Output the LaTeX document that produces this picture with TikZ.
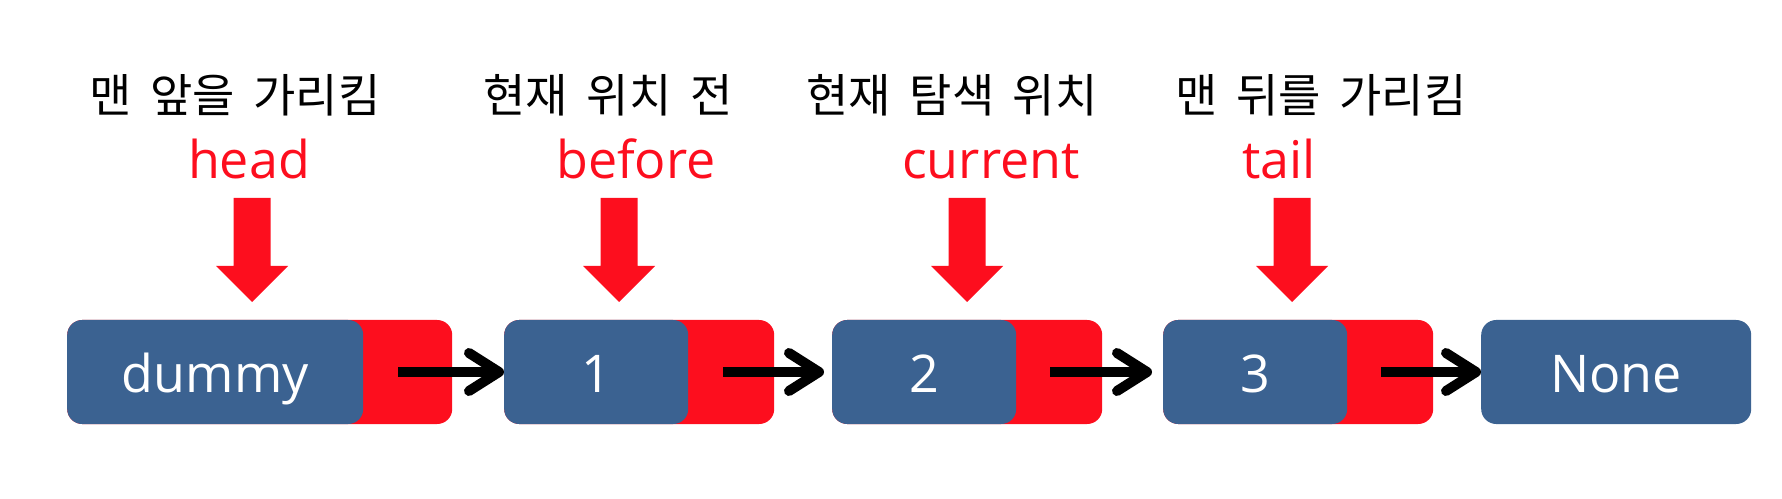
\documentclass[tikz,border=0pt]{standalone}
\usepackage{fontspec}
\setmainfont{Open Sans}
\newfontfamily\kr[WordSpace=1.8]{Noto Sans CJK KR}
\usetikzlibrary{arrows.meta}
\definecolor{nodeblue}{RGB}{59,98,145}
\definecolor{ptrred}{RGB}{253,14,30}
\tikzset{
  redbox/.style={fill=ptrred, draw=none, rounded corners=15pt, minimum height=104pt, inner sep=0pt, anchor=west},
  bluebox/.style={fill=nodeblue, draw=none, rounded corners=15pt, minimum height=104pt, inner sep=0pt, anchor=west,
    text=white, font=\fontsize{52}{60}\selectfont, text height=46pt, text depth=4pt},
  link/.style={line width=10pt, -{Straight Barb[length=30pt, width=38pt, line cap=round, line join=round]}},
  ptrname/.style={text=ptrred, font=\fontsize{52}{60}\selectfont, anchor=base, inner sep=0pt},
  krlabel/.style={font=\kr\fontsize{46}{52}\selectfont, anchor=base, inner sep=0pt},
  ptrarrow/.style={fill=ptrred, draw=none}
}
\newcommand{\downptr}[1]{%
  \fill[ptrarrow] (#1-18.5,300) -- (#1+18.5,300) -- (#1+18.5,232) -- (#1+36,232) -- (#1,196) -- (#1-36,232) -- (#1-18.5,232) -- cycle;}
\begin{document}
\begin{tikzpicture}[x=1pt,y=1pt]
\useasboundingbox (0,0) rectangle (1782,498);
% boxes
\node[redbox, minimum width=385pt] (r0) at (67,126) {};
\node[bluebox, minimum width=296pt] (b0) at (67,126) {dummy};
\node[redbox, minimum width=270pt] (r1) at (504,126) {};
\node[bluebox, minimum width=184pt] (b1) at (504,126) {1};
\node[redbox, minimum width=270pt] (r2) at (832,126) {};
\node[bluebox, minimum width=184pt] (b2) at (832,126) {2};
\node[redbox, minimum width=270pt] (r3) at (1163,126) {};
\node[bluebox, minimum width=184pt] (b3) at (1163,126) {3};
\node[bluebox, minimum width=270pt] (b4) at (1481,126) {None};
% links
\draw[link] ([xshift=35pt]b0.east) -- (b1.west);
\draw[link] ([xshift=35pt]b1.east) -- ([xshift=-8pt]b2.west);
\draw[link] ([xshift=34pt]b2.east) -- ([xshift=-11pt]b3.west);
\draw[link] ([xshift=34pt]b3.east) -- (b4.west);
% pointer names
\node[ptrname] (phead) at (249,319) {head};
\node[ptrname] (pbefore) at (636,319) {before};
\node[ptrname] (pcurrent) at (991,319) {current};
\node[ptrname] (ptail) at (1279,319) {tail};
% korean labels
\node[krlabel] (khead) at (235,385) {맨 앞을 가리킴};
\node[krlabel] (kbefore) at (608,385) {현재 위치 전};
\node[krlabel] (kcurrent) at (952,385) {현재 탐색 위치};
\node[krlabel] (ktail) at (1321,385) {맨 뒤를 가리킴};
% pointer arrows
\downptr{252}
\downptr{619}
\downptr{967}
\downptr{1292}
\end{tikzpicture}
\end{document}
